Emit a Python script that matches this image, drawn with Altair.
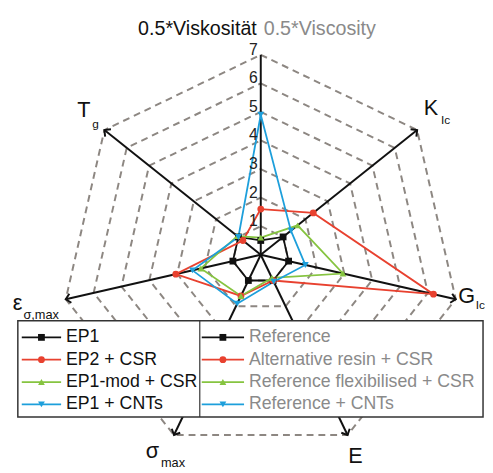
import altair as alt
import pandas as pd
import numpy as np

# ---------------- data ----------------
axis_keys = ["visc", "kic", "gic", "e", "smax", "eps", "tg"]
series = ["EP1", "EP2 + CSR", "EP1-mod + CSR", "EP1 + CNTs"]
series_en = ["Reference", "Alternative resin + CSR", "Reference flexibilised + CSR", "Reference + CNTs"]
colors = ["#111111", "#e8412f", "#86c440", "#1d9fdb"]
shapes = ["square", "circle", "triangle-up", "triangle-down"]

# values in axis order: 0.5*Viscosity, K_Ic, G_Ic, E, sigma_max, eps_sigma,max, T_g
ep1 = [0.5, 1.0, 1.0, 1.0, 1.0, 1.0, 1.0]
ep2_csr = [1.6, 2.35, 6.2, 1.0, 1.6, 3.05, 0.8]
ep1mod_csr = [0.6, 1.65, 2.95, 0.9, 1.6, 2.15, 1.05]
ep1_cnt = [4.9, 1.35, 1.6, 1.05, 1.9, 2.45, 1.0]
all_values = [ep1, ep2_csr, ep1mod_csr, ep1_cnt]

grid_levels = [1, 2, 3, 4, 5, 6, 7]
tick_labels = ["1", "2", "3", "4", "5", "6", "7"]
r_max = 7

# ---------------- layout ----------------
W, H = 485, 465
CX, CY = 257, 247
U = 29.05
xdom = [-CX / U, (W - CX) / U]
ydom = [-(H - CY) / U, CY / U]
FONT = "Liberation Sans"

n = len(axis_keys)
theta = [np.deg2rad(90 - k * 360 / n) for k in range(n)]


def X(f):
    return alt.X(f, type="quantitative", scale=alt.Scale(domain=xdom, nice=False, zero=False), axis=None)


def Y(f):
    return alt.Y(f, type="quantitative", scale=alt.Scale(domain=ydom, nice=False, zero=False), axis=None)


# grid
grid_rows = []
for lv in grid_levels:
    for o in range(n + 1):
        k = o % n
        grid_rows.append({"lv": lv, "o": o, "x": lv * np.cos(theta[k]), "y": lv * np.sin(theta[k])})
grid_df = pd.DataFrame(grid_rows)

# spokes
spoke_df = pd.DataFrame({
    "k": list(range(n)),
    "x0": [0.0] * n, "y0": [0.0] * n,
    "x1": [r_max * np.cos(t) for t in theta],
    "y1": [r_max * np.sin(t) for t in theta],
})
spoke_df["ang"] = [(-np.rad2deg(t)) % 360 for t in theta]
arrow_df = spoke_df[spoke_df["k"] > 0]

# series
rows = []
for s, vals in zip(series, all_values):
    for o in range(n + 1):
        k = o % n
        v = vals[k]
        rows.append({"s": s, "o": o, "v": v, "x": v * np.cos(theta[k]), "y": v * np.sin(theta[k])})
ser_df = pd.DataFrame(rows)
pts_df = ser_df[ser_df["o"] < n]

color_enc = alt.Color("s:N", scale=alt.Scale(domain=series, range=colors), legend=None)
shape_enc = alt.Shape("s:N", scale=alt.Scale(domain=series, range=shapes), legend=None)

layers = []

grid = alt.Chart(grid_df).mark_line(
    color="#8d8782", strokeWidth=2, strokeDash=[7, 5]
).encode(x=X("x"), y=Y("y"), detail="lv:N", order="o:Q")
layers.append(grid)

spokes = alt.Chart(spoke_df).mark_rule(color="#111111", strokeWidth=2).encode(
    x=X("x0"), y=Y("y0"), x2="x1:Q", y2="y1:Q"
)
layers.append(spokes)

arrows = alt.Chart(arrow_df).mark_point(
    shape="M -1 -1 L 0 0 L -1 1", filled=False, color="#111111", strokeWidth=2, size=90, opacity=1
).encode(x=X("x1"), y=Y("y1"), angle=alt.Angle("ang:Q", scale=None))
layers.append(arrows)

for s in series:
    sub = ser_df[ser_df["s"] == s]
    layers.append(
        alt.Chart(sub).mark_line(strokeWidth=1.8).encode(
            x=X("x"), y=Y("y"), order="o:Q", color=color_enc
        )
    )
for s in series:
    sub = pts_df[pts_df["s"] == s]
    layers.append(
        alt.Chart(sub).mark_point(filled=True, size=48, opacity=1).encode(
            x=X("x"), y=Y("y"), color=color_enc, shape=shape_enc
        )
    )

# tick labels
tick_df = pd.DataFrame({"v": grid_levels, "t": tick_labels, "z": [0.0] * len(grid_levels)})
ticks = alt.Chart(tick_df).mark_text(
    align="right", baseline="middle", dx=-3, dy=-5, fontSize=16, font=FONT, color="#222222"
).encode(x=X("z"), y=Y("v"), text="t:N")
layers.append(ticks)

# axis labels (main letter + subscript), anchored at axis ends
label_specs = [
    # k, text, dx, dy, size
    (1, "K", 14, -22, 22), (1, "Ic", 29, -10, 12),
    (2, "G", 11, -3, 22), (2, "Ic", 25, 6, 12),
    (3, "E", 8, 22, 22),
    (4, "σ", -22, 16, 22), (4, "max", -1, 29, 13),
    (5, "ε", -49, 4, 22), (5, "σ,max", -25, 16, 13),
    (6, "T", -21, -20, 22), (6, "g", -9, -6, 12),
]
for k, txt, dx, dy, fs in label_specs:
    d = spoke_df[spoke_df["k"] == k]
    layers.append(
        alt.Chart(d).mark_text(
            text=txt, dx=dx, dy=dy, fontSize=fs, font=FONT, color="#111111",
            align="center", baseline="middle"
        ).encode(x=X("x1"), y=Y("y1"))
    )

one = pd.DataFrame({"a": [0]})

# title
layers.append(alt.Chart(one).mark_text(
    text="0.5*Viskosität", align="right", baseline="middle", fontSize=20, font=FONT, color="#111111"
).encode(x=alt.value(CX - 4), y=alt.value(18)))
layers.append(alt.Chart(one).mark_text(
    text="0.5*Viscosity", align="left", baseline="middle", fontSize=20, font=FONT, color="#8a8a8a"
).encode(x=alt.value(CX + 3), y=alt.value(18)))

# legend box
LX0, LX1, LY0, LY1, LDIV = 10, 483, 314, 412, 195
layers.append(alt.Chart(one).mark_rect(fill="white", stroke="#333333", strokeWidth=1.5).encode(
    x=alt.value(LX0), x2=alt.value(LX1), y=alt.value(LY0), y2=alt.value(LY1)))
layers.append(alt.Chart(one).mark_rule(color="#333333", strokeWidth=1.2).encode(
    x=alt.value(LDIV), y=alt.value(LY0), y2=alt.value(LY1)))

for i, (s, se, c, sh) in enumerate(zip(series, series_en, colors, shapes)):
    yy = 331 + 22.7 * i
    for (xa, xb, tx, tc, lab) in [(14, 54, 59, "#111111", s), (197, 240, 245, "#8a8a8a", se)]:
        layers.append(alt.Chart(one).mark_rule(color=c, strokeWidth=1.8).encode(
            x=alt.value(xa), x2=alt.value(xb), y=alt.value(yy)))
        layers.append(alt.Chart(one).mark_point(shape=sh, filled=True, color=c, size=48, opacity=1).encode(
            x=alt.value((xa + xb) / 2), y=alt.value(yy)))
        layers.append(alt.Chart(one).mark_text(
            text=lab, align="left", baseline="middle", fontSize=18, font=FONT, color=tc
        ).encode(x=alt.value(tx), y=alt.value(yy)))

chart = alt.layer(*layers).properties(
    width=W, height=H, padding=0, autosize=alt.AutoSizeParams(type="none"), background="white"
).configure_view(stroke=None)

chart.save("out.html", embed_options={"renderer": "svg", "actions": False})
